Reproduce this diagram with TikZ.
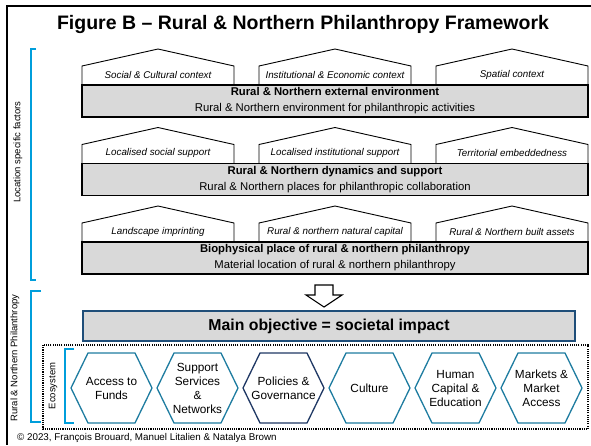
\documentclass[tikz,border=0pt]{standalone}
\usepackage{fontspec}
\setmainfont{Liberation Sans}
\usepackage{tikz}
\usetikzlibrary{positioning, calc}
\definecolor{bracketblue}{RGB}{0,158,219}
\definecolor{hexteal}{RGB}{30,124,160}
\definecolor{hexnavy}{RGB}{31,56,100}
\definecolor{boxnavy}{RGB}{31,78,121}
\definecolor{boxgray}{RGB}{217,217,217}

\begin{document}
\begin{tikzpicture}[x=1pt, y=-1pt,
		housebox/.style={draw=black, line width=0.9pt, fill=white},
		housetext/.style={font=\fontsize{9.8}{11}\selectfont\itshape, inner sep=0pt},
		graybox/.style={draw=black, line width=1.1pt, fill=boxgray, minimum width=506pt, minimum height=32pt, align=center, font=\fontsize{11.3}{16}\selectfont, inner sep=0pt},
		hexbox/.style={line width=1.3pt, fill=white},
		hextext/.style={align=center, font=\fontsize{11.8}{14}\selectfont, inner sep=0pt},
		sidetext/.style={rotate=90, font=\fontsize{9.5}{11}\selectfont, inner sep=0pt},
		bracket/.style={draw=bracketblue, line width=1.8pt}]
		\useasboundingbox (0,0) rectangle (591,445);
		\pgfmathsetmacro{\househalf}{76}
		\pgfmathsetmacro{\hexside}{17}
		\pgfmathsetmacro{\hextop}{47}
		
		\draw[line width=2pt] (591,5.5) -- (7,5.5) -- (7,445);
		\node (title) at (303,24.5) {\fontsize{19.5}{22}\selectfont\bfseries Figure B – Rural \& Northern Philanthropy Framework};
		
		% external environment
		\draw[housebox] (82,85) -- ++(0,-19) -- ++(\househalf,-17) -- ++(\househalf,17) -- ++(0,19) -- cycle;
		\draw[housebox] (259,85) -- ++(0,-19) -- ++(\househalf,-17) -- ++(\househalf,17) -- ++(0,19) -- cycle;
		\draw[housebox] (436,85) -- ++(0,-19) -- ++(\househalf,-17) -- ++(\househalf,17) -- ++(0,19) -- cycle;
		\node[housetext] (social) at (158,74.5) {Social \& Cultural context};
		\node[housetext] (institutional) at (335,74.5) {Institutional \& Economic context};
		\node[housetext] (spatial) at (512,74.5) {Spatial context};
		\node[graybox] (external) at (335,101) {{\bfseries Rural \& Northern external environment}\\Rural \& Northern environment for philanthropic activities};
		
		% dynamics and support
		\draw[housebox] (82,163.5) -- ++(0,-19) -- ++(\househalf,-17) -- ++(\househalf,17) -- ++(0,19) -- cycle;
		\draw[housebox] (259,163.5) -- ++(0,-19) -- ++(\househalf,-17) -- ++(\househalf,17) -- ++(0,19) -- cycle;
		\draw[housebox] (436,163.5) -- ++(0,-19) -- ++(\househalf,-17) -- ++(\househalf,17) -- ++(0,19) -- cycle;
		\node[housetext] (locsocial) at (158,153) {Localised social support};
		\node[housetext] (locinst) at (335,153) {Localised institutional support};
		\node[housetext] (territorial) at (512,153) {Territorial embeddedness};
		\node[graybox] (dynamics) at (335,179.5) {{\bfseries Rural \& Northern dynamics and support}\\Rural \& Northern places for philanthropic collaboration};
		
		% biophysical place
		\draw[housebox] (82,242) -- ++(0,-19) -- ++(\househalf,-17) -- ++(\househalf,17) -- ++(0,19) -- cycle;
		\draw[housebox] (259,242) -- ++(0,-19) -- ++(\househalf,-17) -- ++(\househalf,17) -- ++(0,19) -- cycle;
		\draw[housebox] (436,242) -- ++(0,-19) -- ++(\househalf,-17) -- ++(\househalf,17) -- ++(0,19) -- cycle;
		\node[housetext] (landscape) at (158,231.5) {Landscape imprinting};
		\node[housetext] (natural) at (335,231.5) {Rural \& northern natural capital};
		\node[housetext] (built) at (512,231.5) {Rural \& Northern built assets};
		\node[graybox] (biophysical) at (335,258) {{\bfseries Biophysical place of rural \& northern philanthropy}\\Material location of rural \& northern philanthropy};
		
		\coordinate (arrowtop) at (324,285);
		\draw[line width=1.1pt, fill=white] (arrowtop) ++(-9,0) -- ++(18,0) -- ++(0,10) -- ++(9,0) -- ++(-18,12) -- ++(-18,-12) -- ++(9,0) -- cycle;
		
		\node[draw=boxnavy, line width=1.4pt, fill=boxgray, minimum width=492pt, minimum height=30pt, inner sep=0pt, font=\fontsize{15.8}{18}\selectfont\bfseries] (impact) at (329,326) {Main objective = societal impact};
		
		% ecosystem
		\draw[line width=1.1pt, dash pattern=on 1.1pt off 1.1pt] (43,345) rectangle (588,429);
		\draw[hexbox, draw=hexteal] (71,388) -- ++(\hexside,-35) -- ++(\hextop,0) -- ++(\hexside,35) -- ++(-\hexside,35) -- ++(-\hextop,0) -- cycle;
		\draw[hexbox, draw=hexteal] (157,388) -- ++(\hexside,-35) -- ++(\hextop,0) -- ++(\hexside,35) -- ++(-\hexside,35) -- ++(-\hextop,0) -- cycle;
		\draw[hexbox, draw=hexnavy] (243,388) -- ++(\hexside,-35) -- ++(\hextop,0) -- ++(\hexside,35) -- ++(-\hexside,35) -- ++(-\hextop,0) -- cycle;
		\draw[hexbox, draw=hexteal] (329,388) -- ++(\hexside,-35) -- ++(\hextop,0) -- ++(\hexside,35) -- ++(-\hexside,35) -- ++(-\hextop,0) -- cycle;
		\draw[hexbox, draw=hexteal] (415,388) -- ++(\hexside,-35) -- ++(\hextop,0) -- ++(\hexside,35) -- ++(-\hexside,35) -- ++(-\hextop,0) -- cycle;
		\draw[hexbox, draw=hexteal] (501,388) -- ++(\hexside,-35) -- ++(\hextop,0) -- ++(\hexside,35) -- ++(-\hexside,35) -- ++(-\hextop,0) -- cycle;
		\node[hextext] (funds) at (111.5,388) {Access to\\Funds};
		\node[hextext] (services) at (197.5,388) {Support\\Services\\\&\\Networks};
		\node[hextext] (policies) at (283.5,388) {Policies \&\\Governance};
		\node[hextext] (culture) at (369.5,388) {Culture};
		\node[hextext] (human) at (455.5,388) {Human\\Capital \&\\Education};
		\node[hextext] (markets) at (541.5,388) {Markets \&\\Market\\Access};
		
		\draw[bracket] (36,49) -- (31,49) -- (31,280) -- (36,280);
		\draw[bracket] (41,291) -- (31,291) -- (31,422) -- (41,422);
		\draw[bracket] (74,349) -- (65,349) -- (65,423) -- (74,423);
		\node[sidetext] (locfactors) at (18,152) {Location specific factors};
		\node[sidetext] (ruralphil) at (15,358) {Rural \& Northern Philanthropy};
		\node[sidetext] (ecosys) at (53,386) {Ecosystem};
		
		\node[anchor=west, inner sep=0pt, font=\fontsize{9.8}{11}\selectfont] (copyright) at (17,438) {© 2023, François Brouard, Manuel Litalien \& Natalya Brown};
\end{tikzpicture}
\end{document}
